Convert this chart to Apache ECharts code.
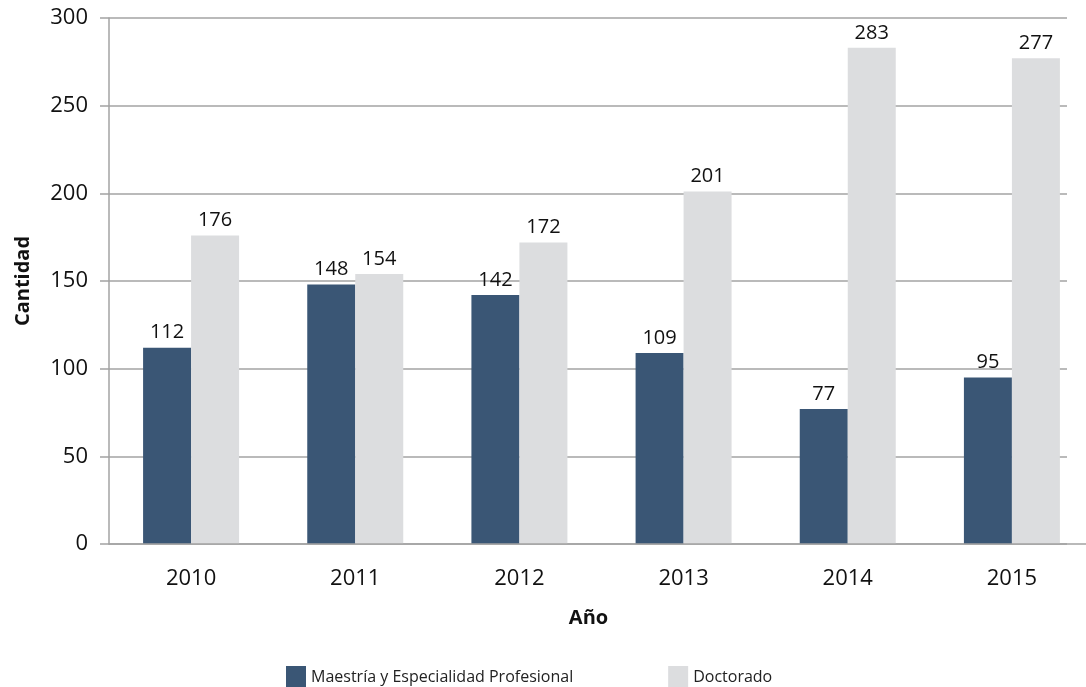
<!DOCTYPE html>
<html>
<head>
<meta charset="utf-8">
<script src="https://cdn.jsdelivr.net/npm/echarts@6/dist/echarts.min.js"></script>
<style>
    html, body { margin: 0; padding: 0; background: #fff; }
    #chart { width: 1086px; height: 687px; }
</style>
</head>
<body>
<div id="chart"></div>
<script>
var years = ['2010', '2011', '2012', '2013', '2014', '2015'];
var maestria = [112, 148, 142, 109, 77, 95];
var doctorado = [176, 154, 172, 201, 283, 277];
var seriesNames = ['Maestría y Especialidad Profesional', 'Doctorado'];

var font = 'Open Sans';
var axisGray = '#a3a3a3';

var chart = echarts.init(document.getElementById('chart'));

chart.setOption({
    animation: false,
    textStyle: { fontFamily: font },
    color: ['#3a5675', '#dcdddf'],
    grid: [
        // main plot, cropped on the right
        { left: 109, top: 18, right: -8, bottom: 143, outerBoundsMode: 'none' },
        // gridlines only, they stop before the right edge
        { left: 109, top: 18, right: 19, bottom: 143, outerBoundsMode: 'none' }
    ],
    legend: {
        data: seriesNames,
        top: 661,
        left: 281,
        itemWidth: 20,
        itemHeight: 23,
        itemGap: 95,
        icon: 'rect',
        textStyle: { fontSize: 16, color: '#222', fontFamily: font }
    },
    xAxis: [
        {
            type: 'category',
            data: years,
            name: 'Año',
            nameLocation: 'middle',
            nameGap: 64,
            nameTextStyle: { fontSize: 20, fontWeight: 'bold', color: '#111', padding: [0, 26, 0, 0] },
            axisLine: { lineStyle: { color: axisGray, width: 1.5 } },
            axisTick: { length: 8, lineStyle: { color: axisGray, width: 1.5 } },
            axisLabel: { fontSize: 22, color: '#111', margin: 24 },
            z: 3
        },
        { type: 'category', data: years, gridIndex: 1, show: false }
    ],
    yAxis: [
        {
            type: 'value',
            min: 0,
            max: 300,
            interval: 50,
            name: 'Cantidad',
            nameLocation: 'middle',
            nameGap: 76,
            nameTextStyle: { fontSize: 20, fontWeight: 'bold', color: '#111' },
            axisLine: { show: true, lineStyle: { color: axisGray, width: 1.5 } },
            axisTick: { show: true, length: 9, lineStyle: { color: axisGray, width: 1.5 } },
            axisLabel: { fontSize: 22, color: '#111', margin: 21 },
            splitLine: { show: false }
        },
        {
            type: 'value',
            gridIndex: 1,
            min: 0,
            max: 300,
            interval: 50,
            axisLine: { show: false },
            axisTick: { show: false },
            axisLabel: { show: false },
            splitLine: { lineStyle: { color: axisGray, width: 1.5 } }
        }
    ],
    series: [
        {
            name: seriesNames[0],
            type: 'bar',
            data: maestria,
            barWidth: 48,
            barGap: '0%',
            label: { show: true, position: 'top', distance: 5, fontSize: 20, color: '#111' }
        },
        {
            name: seriesNames[1],
            type: 'bar',
            data: doctorado,
            barWidth: 48,
            label: { show: true, position: 'top', distance: 5, fontSize: 20, color: '#111' }
        }
    ]
});
</script>
</body>
</html>
